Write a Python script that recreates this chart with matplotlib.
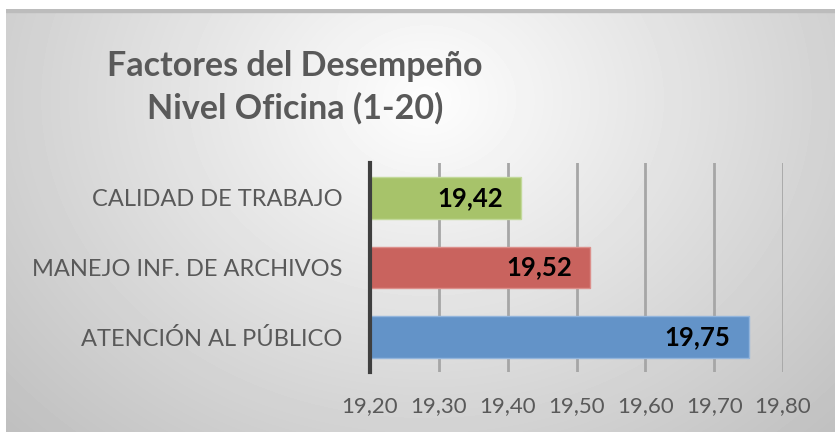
import numpy as np
import matplotlib
matplotlib.use("Agg")
import matplotlib.pyplot as plt

plt.rcParams['font.family'] = ['Lato', 'DejaVu Sans']

categorias = ["CALIDAD DE TRABAJO", "MANEJO INF. DE ARCHIVOS", "ATENCIÓN AL PÚBLICO"]
valores = [19.42, 19.52, 19.75]
colores = ["#a7c36a", "#c9635e", "#6393c8"]
bordes = ["#c2d99a", "#dc8f8b", "#93b5dc"]
xticks = [19.20, 19.30, 19.40, 19.50, 19.60, 19.70, 19.80]

W, H = 835, 434
fig = plt.figure(figsize=(W / 100, H / 100), dpi=100)
fig.patch.set_facecolor("white")

# fondo degradado radial
bg = fig.add_axes([6 / W, 2 / H, 1 - 6 / W, (H - 11) / H], zorder=0)
yy, xx = np.mgrid[0:423, 0:829]
r = np.sqrt(((xx - 420) / 520) ** 2 + ((yy - 90) / 430) ** 2)
img = 0.995 - 0.22 * np.clip(r, 0, 1.2)
bg.imshow(img, cmap="gray", vmin=0, vmax=1, aspect="auto", interpolation="bilinear")
bg.axhspan(-0.5, 2.5, color="#bcbcbc")
bg.set_xlim(-0.5, 828.5)
bg.set_ylim(422.5, -0.5)
bg.axis("off")

ax = fig.add_axes([370 / W, 1 - 372 / H, 413 / W, 209 / H], zorder=1)
ax.patch.set_alpha(0)
y = np.arange(len(categorias))
ax.barh(y, [v - 19.2 for v in valores], left=19.2, height=0.6,
        color=colores, edgecolor=bordes, linewidth=1, zorder=3)
for yi, v in zip(y, valores):
    ax.text(v - 0.027, yi, f"{v:.2f}".replace(".", ","), ha="right", va="center",
            fontsize=18.5, fontweight="bold", color="black", zorder=4)

ax.set_xlim(19.2, 19.8)
ax.set_ylim(2.5, -0.5)
ax.set_xticks(xticks)
ax.set_xticklabels([f"{t:.2f}".replace(".", ",") for t in xticks])
ax.set_yticks(y)
ax.set_yticklabels(categorias)
ax.tick_params(axis="x", length=0, pad=17, labelsize=16, labelcolor="#595959")
ax.tick_params(axis="y", length=0, pad=20, labelsize=17, labelcolor="#595959")
ax.grid(axis="x", color="#a6a6a6", linewidth=2, zorder=1)
for s in ["top", "right", "bottom"]:
    ax.spines[s].set_visible(False)
ax.spines["left"].set_color("#3f3f3f")
ax.spines["left"].set_linewidth(3)
ax.spines["left"].set_zorder(5)

fig.text(295 / W, 1 - 87 / H, "Factores del Desempeño\nNivel Oficina (1-20)",
         ha="center", va="center", fontsize=24.5, fontweight="bold",
         color="#595959", linespacing=1.36)

fig.savefig("out.png", dpi=100)
